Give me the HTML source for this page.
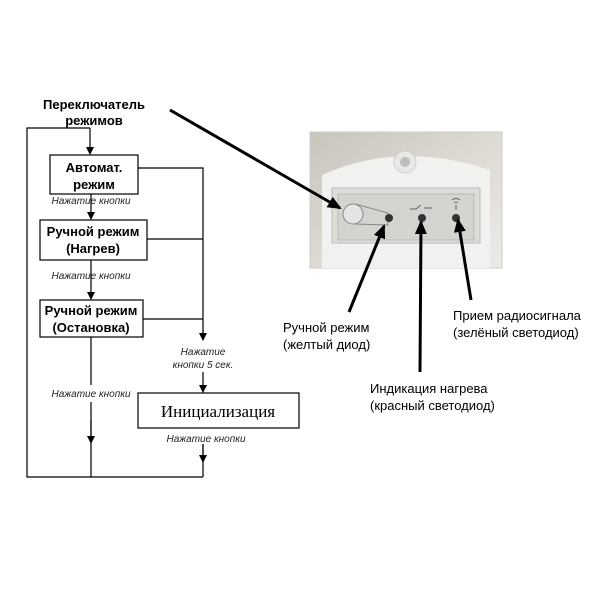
<!DOCTYPE html>
<html><head><meta charset="utf-8"><style>
body{margin:0;background:#fff}
svg text{font-family:"Liberation Sans",sans-serif}
</style></head><body>
<svg width="600" height="600" viewBox="0 0 600 600" xmlns="http://www.w3.org/2000/svg">
<defs>
<marker id="a" markerWidth="8" markerHeight="8" refX="7" refY="4" orient="auto" markerUnits="userSpaceOnUse"><path d="M0,0 L8,4 L0,8 z" fill="#000"/></marker>
<marker id="b" markerWidth="14" markerHeight="12" refX="12" refY="6" orient="auto" markerUnits="userSpaceOnUse"><path d="M0,0 L14,6 L0,12 z" fill="#000"/></marker>
<linearGradient id="bg" x1="0" y1="0" x2="1" y2="1"><stop offset="0" stop-color="#c9c4bc"/><stop offset="0.5" stop-color="#ddd9d3"/><stop offset="1" stop-color="#ecebe8"/></linearGradient>
</defs>
<rect x="310" y="132" width="192" height="136" fill="url(#bg)" stroke="#ccc"/>
<path d="M322,268 L322,175 Q400,140 490,170 L490,268 z" fill="#f1f1ef"/>
<circle cx="405" cy="162" r="11" fill="#e8e8e6" stroke="#cfcfcc"/>
<circle cx="405" cy="162" r="5" fill="#bdbdbb"/>
<rect x="332" y="188" width="148" height="55" fill="#dcdcd9" stroke="#bcbcb8"/>
<rect x="338" y="194" width="136" height="46" fill="#d3d3d0" stroke="#aaa" stroke-width="0.6"/>
<circle cx="353" cy="214" r="10" fill="#e4e4e2" stroke="#888"/>
<path d="M355,204 L388,213 L388,225 L355,224" fill="none" stroke="#888"/>
<circle cx="389" cy="218" r="4" fill="#333"/>
<circle cx="422" cy="218" r="4" fill="#333"/>
<circle cx="456" cy="218" r="4" fill="#333"/>
<path d="M410,209 l6,0 l5,-4 M424,208 l8,0" stroke="#666" fill="none"/>
<path d="M452,200 q4,-3 8,0 M454,203 q2,-1.5 4,0 M456,205 v5" stroke="#666" fill="none"/>
<line x1="170" y1="110" x2="340" y2="208" stroke="#000" stroke-width="3" marker-end="url(#b)"/>
<line x1="349" y1="312" x2="384" y2="226" stroke="#000" stroke-width="3" marker-end="url(#b)"/>
<line x1="420" y1="372" x2="421" y2="222" stroke="#000" stroke-width="3" marker-end="url(#b)"/>
<line x1="471" y1="300" x2="458" y2="220" stroke="#000" stroke-width="3" marker-end="url(#b)"/>
<g font-size="13" fill="#000">
<text x="283" y="332">Ручной режим</text>
<text x="283" y="349">(желтый диод)</text>
<text x="453" y="320">Прием радиосигнала</text>
<text x="453" y="337">(зелёный светодиод)</text>
<text x="370" y="393">Индикация нагрева</text>
<text x="370" y="410">(красный светодиод)</text>
</g>
<g font-size="13" font-weight="bold" text-anchor="middle">
<text x="94" y="109">Переключатель</text>
<text x="94" y="125">режимов</text>
</g>
<g stroke="#000" stroke-width="1.2" fill="none">
<polyline points="90,128 27,128 27,477 203,477"/>
<line x1="90" y1="128" x2="90" y2="154" marker-end="url(#a)"/>
<rect x="50" y="155" width="88" height="39" fill="#fff"/>
<line x1="91" y1="194" x2="91" y2="219" marker-end="url(#a)"/>
<rect x="40" y="220" width="107" height="40" fill="#fff"/>
<line x1="91" y1="260" x2="91" y2="299" marker-end="url(#a)"/>
<rect x="40" y="300" width="103" height="37" fill="#fff"/>
<polyline points="138,168 203,168 203,340"/>
<line x1="147" y1="239" x2="203" y2="239"/>
<line x1="143" y1="319" x2="203" y2="319"/>
<line x1="203" y1="330" x2="203" y2="340" marker-end="url(#a)"/>
<line x1="203" y1="372" x2="203" y2="392" marker-end="url(#a)"/>
<rect x="138" y="393" width="161" height="35" fill="#fff"/>
<line x1="91" y1="337" x2="91" y2="385"/>
<line x1="91" y1="402" x2="91" y2="477"/>
<line x1="91" y1="420" x2="91" y2="443" marker-end="url(#a)"/>
<line x1="203" y1="444" x2="203" y2="477"/>
<line x1="203" y1="444" x2="203" y2="462" marker-end="url(#a)"/>
</g>
<g font-size="13" font-weight="bold" text-anchor="middle">
<text x="94" y="172">Автомат.</text>
<text x="94" y="189">режим</text>
<text x="93" y="236">Ручной режим</text>
<text x="93" y="253">(Нагрев)</text>
<text x="91" y="315">Ручной режим</text>
<text x="91" y="332">(Остановка)</text>
</g>
<text x="218" y="417" font-size="17" text-anchor="middle" style="font-family:'Liberation Serif',serif">Инициализация</text>
<g font-size="10" font-style="italic" text-anchor="middle" fill="#222">
<text x="91" y="204">Нажатие кнопки</text>
<text x="91" y="279">Нажатие кнопки</text>
<text x="203" y="355">Нажатие</text>
<text x="203" y="368">кнопки 5 сек.</text>
<text x="91" y="397">Нажатие кнопки</text>
<text x="206" y="442">Нажатие кнопки</text>
</g>
</svg>
</body></html>
